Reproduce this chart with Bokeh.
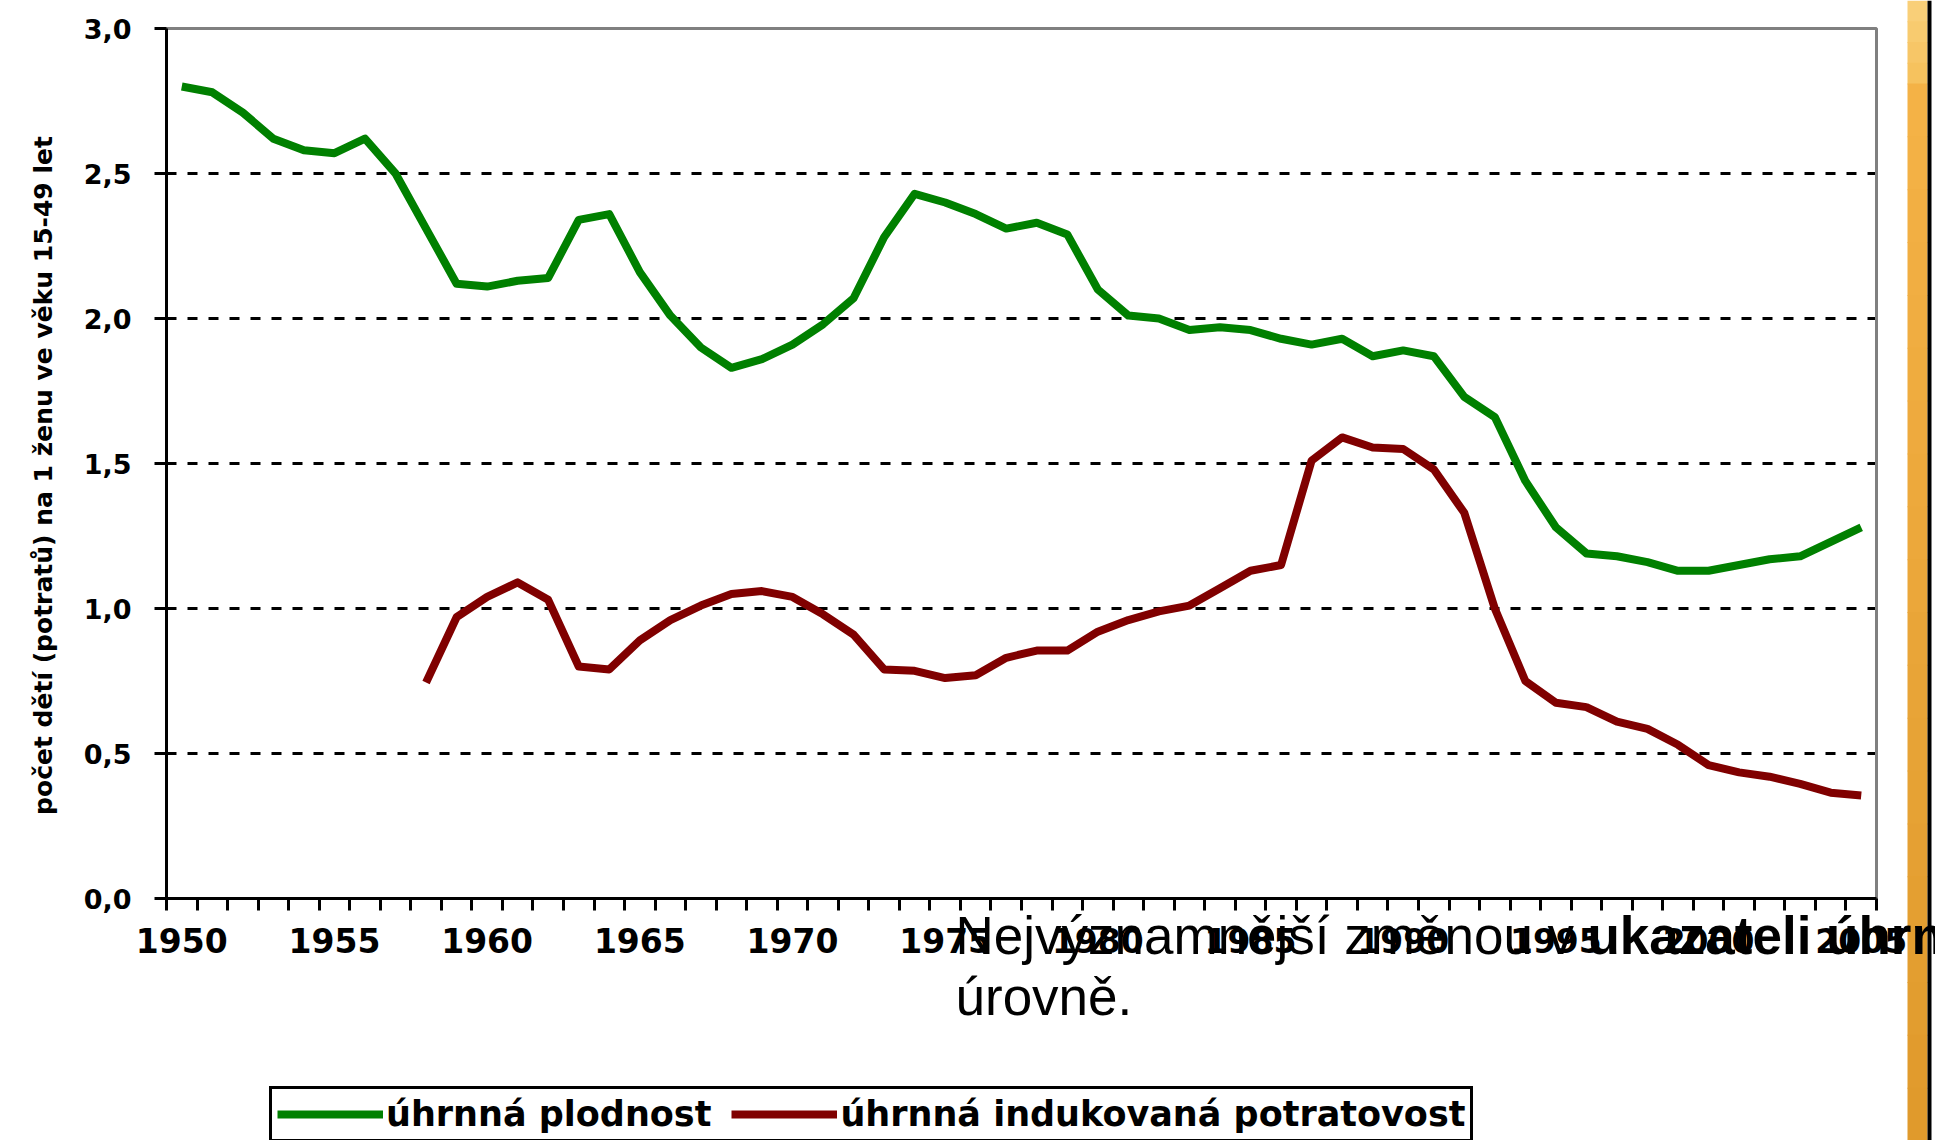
from bokeh.plotting import figure
from bokeh.models import (Range1d, FixedTicker, CustomJSTickFormatter, Legend, LegendItem,
                          Label, BoxAnnotation)
from bokeh.embed import file_html
from bokeh.resources import INLINE

# ---------------- data ----------------
years = list(range(1950, 2006))
fertility = [2.80, 2.78, 2.71, 2.62, 2.58, 2.57, 2.62, 2.50, 2.31, 2.12,
             2.11, 2.13, 2.14, 2.34, 2.36, 2.16, 2.01, 1.90, 1.83, 1.86,
             1.91, 1.98, 2.07, 2.28, 2.43, 2.40, 2.36, 2.31, 2.33, 2.29,
             2.10, 2.01, 2.00, 1.96, 1.97, 1.96, 1.93, 1.91, 1.93, 1.87,
             1.89, 1.87, 1.73, 1.66, 1.44, 1.28, 1.19, 1.18, 1.16, 1.13,
             1.13, 1.15, 1.17, 1.18, 1.23, 1.28]
abortion_years = list(range(1958, 2006))
abortion = [0.745, 0.97,
            1.04, 1.09, 1.03, 0.80, 0.79, 0.89, 0.96, 1.01, 1.05, 1.06,
            1.04, 0.98, 0.91, 0.79, 0.785, 0.76, 0.77, 0.83, 0.855, 0.855,
            0.92, 0.96, 0.99, 1.01, 1.07, 1.13, 1.15, 1.51, 1.59, 1.555,
            1.55, 1.48, 1.33, 1.00, 0.75, 0.675, 0.66, 0.61, 0.585, 0.53,
            0.46, 0.435, 0.42, 0.395, 0.365, 0.355]
y_ticks = [0.0, 0.5, 1.0, 1.5, 2.0, 2.5, 3.0]
grid_values = [0.5, 1.0, 1.5, 2.0, 2.5]
x_label_years = [1950, 1955, 1960, 1965, 1970, 1975, 1980, 1985, 1990, 1995, 2000, 2005]
y_title = "počet dětí (potratů) na 1 ženu ve věku 15-49 let"
legend_labels = ["úhrnná plodnost", "úhrnná indukovaná potratovost"]
note_normal = "Nejvýznamnější změnou v "
note_bold = "ukazateli úhrn"
note_line2 = "úrovně."

# ---------------- layout (pixels) ----------------
W, H = 1935, 1140
PL, PR, PT, PB = 166, 1876, 28, 898          # plot area edges on the page
X0, X1 = years[0] - 0.5, years[-1] + 0.5       # category axis extent
Y0, Y1 = y_ticks[0], y_ticks[-1]


def xd(px):
    return X0 + (px - PL) * (X1 - X0) / (PR - PL)


def yd(py):
    return Y0 + (PB - py) * (Y1 - Y0) / (PB - PT)


p = figure(width=W, height=H,
           x_range=Range1d(xd(0), xd(W)), y_range=Range1d(yd(H), yd(0)),
           output_backend="svg", toolbar_location=None, title=None, min_border=0)
p.background_fill_color = "white"
p.border_fill_color = "white"
p.outline_line_color = None


def mix(c1, c2, t):
    a = [int(c1[i:i + 2], 16) for i in (1, 3, 5)]
    b = [int(c2[i:i + 2], 16) for i in (1, 3, 5)]
    return "#%02x%02x%02x" % tuple(round(a[k] + (b[k] - a[k]) * t) for k in range(3))


# orange side bar of the slide (stepped gradient)
segments = [(0, 83, "#F9CF78", "#F6C25E", 4), (83, H, "#F4B246", "#E09A2C", 20)]
for top, bottom, c_top, c_bot, n in segments:
    step = (bottom - top) / n
    for i in range(n):
        p.add_layout(BoxAnnotation(left=xd(1907), right=xd(1927),
                                   top=yd(top + i * step), bottom=yd(top + (i + 1) * step + 1),
                                   fill_color=mix(c_top, c_bot, i / max(n - 1, 1)),
                                   fill_alpha=1, line_alpha=0, level="underlay"))
p.add_layout(BoxAnnotation(left=xd(1927), right=xd(1931), top=yd(0), bottom=yd(H),
                           fill_color="black", fill_alpha=1, line_alpha=0, level="underlay"))

# plot-area border (gray top / right)
p.add_layout(BoxAnnotation(left=X0, right=X1, bottom=Y0, top=Y1, fill_color=None,
                           line_color="#808080", line_alpha=1, line_width=3, level="underlay"))

# dashed horizontal grid
p.xgrid.visible = False
p.ygrid.visible = False
p.segment(x0=X0, x1=X1, y0=grid_values, y1=grid_values, line_color="black",
          line_width=3, line_dash="10 11", level="underlay")

# y axis
yax = p.yaxis[0]
yax.fixed_location = X0
yax.bounds = (Y0, Y1)
yax.ticker = FixedTicker(ticks=y_ticks)
yax.formatter = CustomJSTickFormatter(code="return tick.toFixed(1).replace('.', ',');")
yax.axis_line_width = 3
yax.axis_line_color = "black"
yax.major_tick_out = 12
yax.major_tick_in = 0
yax.major_tick_line_width = 3
yax.minor_tick_out = 0
yax.minor_tick_in = 0
yax.major_label_text_font = "DejaVu Sans"
yax.major_label_text_font_style = "bold"
yax.major_label_text_font_size = "27px"
yax.major_label_text_color = "black"
yax.major_label_standoff = 23

p.add_layout(Label(x=xd(43), y=yd(475), text=y_title, angle=90, angle_units="deg",
                   text_align="center", text_baseline="middle", text_font="DejaVu Sans",
                   text_font_style="bold", text_font_size="25px", text_color="black"))

# x axis (category boundaries as ticks, year labels in the middle)
xax = p.xaxis[0]
xax.fixed_location = Y0
xax.bounds = (X0, X1)
xax.ticker = FixedTicker(ticks=x_label_years,
                         minor_ticks=[y - 0.5 for y in years] + [years[-1] + 0.5])
xax.formatter = CustomJSTickFormatter(code="return tick.toFixed(0);")
xax.axis_line_width = 3
xax.axis_line_color = "black"
xax.major_tick_out = 0
xax.major_tick_in = 0
xax.major_tick_line_alpha = 0
xax.minor_tick_out = 12
xax.minor_tick_in = 0
xax.minor_tick_line_width = 3
xax.minor_tick_line_color = "black"
xax.major_label_text_font = "DejaVu Sans"
xax.major_label_text_font_style = "bold"
xax.major_label_text_font_size = "33px"
xax.major_label_text_color = "black"
xax.major_label_standoff = 17

# series
r1 = p.line(years, fertility, line_color="#008000", line_width=8, line_join="round")
r2 = p.line(abortion_years, abortion, line_color="#800000", line_width=8, line_join="round")

legend = Legend(items=[LegendItem(label=legend_labels[0], renderers=[r1]),
                       LegendItem(label=legend_labels[1], renderers=[r2])],
                orientation="horizontal", location=(269, -2),
                glyph_width=106, glyph_height=20, label_standoff=3, spacing=20,
                padding=5, margin=0, border_line_color="black", border_line_alpha=1,
                border_line_width=3,
                background_fill_color="white", background_fill_alpha=1,
                label_text_font="DejaVu Sans", label_text_font_style="bold",
                label_text_font_size="35px", label_text_color="black")
p.add_layout(legend)

# slide text overlay
p.add_layout(Label(x=xd(955), y=yd(935), text=note_normal, text_font="Liberation Sans",
                   text_font_size="53px", text_color="black", text_baseline="alphabetic"))
p.add_layout(Label(x=xd(1587), y=yd(935), text=note_bold, text_font="Liberation Sans",
                   text_font_style="bold", text_font_size="53px", text_color="black",
                   text_baseline="alphabetic"))
p.add_layout(Label(x=xd(955), y=yd(996), text=note_line2, text_font="Liberation Sans",
                   text_font_size="53px", text_color="black", text_baseline="alphabetic"))

open("out.html", "w").write(file_html(p, INLINE))
